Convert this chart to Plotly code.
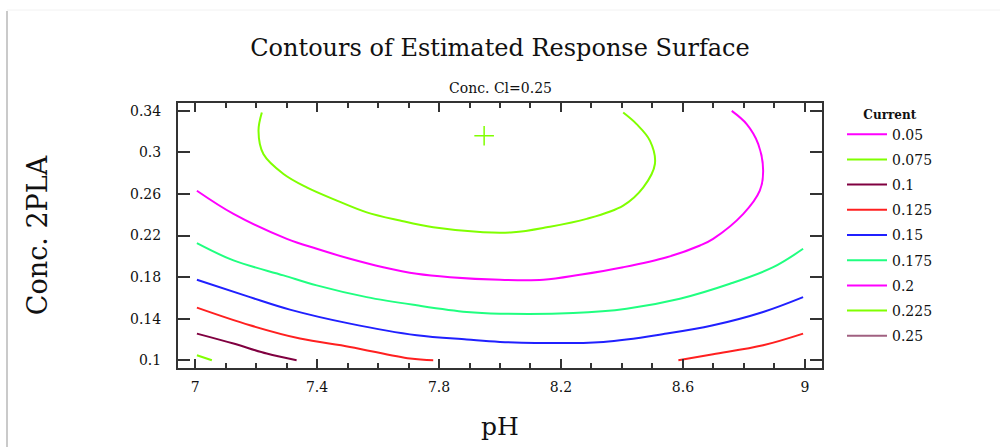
import plotly.graph_objects as go

# Contour levels of the estimated response ("Current") and their legend labels
levels = [0.05, 0.075, 0.1, 0.125, 0.15, 0.175, 0.2, 0.225, 0.25]
level_labels = ["0.05", "0.075", "0.1", "0.125", "0.15", "0.175", "0.2", "0.225", "0.25"]
level_colors = ["#ff00ff", "#80ff00", "#800040", "#ff2020", "#2020ff",
                "#20ff80", "#ff00ff", "#80ff00", "#a06080"]

# Contour paths (pH, Conc. 2PLA) for each level; empty where the level is not reached
ph_0225 = [7.219, 7.208, 7.224, 7.290, 7.366, 7.465, 7.563, 7.672, 7.781, 7.945,
           8.044, 8.153, 8.284, 8.404, 8.470, 8.508, 8.492, 8.448, 8.404]
pla_0225 = [0.3383, 0.3207, 0.2984, 0.2792, 0.2663, 0.2536, 0.2423, 0.2344, 0.2279, 0.2231,
            0.2231, 0.2279, 0.2360, 0.2488, 0.2663, 0.2888, 0.3111, 0.3272, 0.3383]

ph_0200 = [7.006, 7.126, 7.301, 7.399, 7.508, 7.617, 7.727, 7.836, 8.000, 8.142, 8.262,
           8.404, 8.547, 8.656, 8.699, 8.798, 8.852, 8.863, 8.847, 8.809, 8.760]
pla_0200 = [0.2631, 0.2408, 0.2168, 0.2072, 0.1976, 0.1895, 0.1832, 0.1799, 0.1774, 0.1774, 0.1822,
            0.1895, 0.1991, 0.2104, 0.2168, 0.2408, 0.2631, 0.2823, 0.3080, 0.3272, 0.3399]

ph_0175 = [7.006, 7.126, 7.290, 7.399, 7.563, 7.727, 7.891, 8.000, 8.240, 8.415,
           8.590, 8.754, 8.896, 8.994]
pla_0175 = [0.2126, 0.1960, 0.1816, 0.1720, 0.1607, 0.1528, 0.1464, 0.1448, 0.1454, 0.1496,
            0.1592, 0.1736, 0.1895, 0.2072]

ph_0150 = [7.006, 7.180, 7.311, 7.508, 7.727, 7.891, 8.000, 8.339, 8.547, 8.699, 8.863, 8.994]
pla_0150 = [0.1774, 0.1607, 0.1487, 0.1352, 0.1240, 0.1199, 0.1176, 0.1176, 0.1256, 0.1336,
            0.1464, 0.1607]

ph_0125 = [7.006, 7.180, 7.344, 7.508, 7.705, 7.781, None, 8.585, 8.699, 8.863, 8.994]
pla_0125 = [0.1506, 0.1336, 0.1208, 0.1128, 0.1016, 0.1000, None, 0.1000, 0.1058, 0.1144, 0.1256]

ph_0100 = [7.006, 7.126, 7.235, 7.333]
pla_0100 = [0.1256, 0.1160, 0.1064, 0.1000]

ph_0075 = [7.006, 7.055]
pla_0075 = [0.1048, 0.1000]

# Location of the estimated optimum
optimum_ph = [7.948]
optimum_pla = [0.316]

contour_paths = {
    0.05: ([None], [None]),
    0.075: (ph_0075, pla_0075),
    0.1: (ph_0100, pla_0100),
    0.125: (ph_0125, pla_0125),
    0.15: (ph_0150, pla_0150),
    0.175: (ph_0175, pla_0175),
    0.2: (ph_0200, pla_0200),
    0.225: (ph_0225, pla_0225),
    0.25: ([None], [None]),
}

x_ticks = [7, 7.4, 7.8, 8.2, 8.6, 9]
y_ticks = [0.1, 0.14, 0.18, 0.22, 0.26, 0.3, 0.34]

SERIF = "DejaVu Serif"
INK = "#111111"
AX = "#333333"

# plot area in pixels: left 178, right 822, top 103, bottom 368
PW, PH_ = 644, 265

fig = go.Figure()
for i, (lev, lab, col) in enumerate(zip(levels, level_labels, level_colors)):
    xs, ys = contour_paths[lev]
    fig.add_trace(go.Scatter(
        x=xs, y=ys, mode="lines", name=lab,
        line=dict(color=col, width=2, shape="spline", smoothing=1.0),
        legendgroup=f"g{i}", connectgaps=False,
        hoverinfo="skip",
    ))

fig.add_trace(go.Scatter(
    x=optimum_ph, y=optimum_pla, mode="markers", showlegend=False,
    marker=dict(symbol="cross-thin", size=14, line=dict(color="#80ff00", width=1.5)),
    hoverinfo="skip",
))

axis_common = dict(
    showgrid=False, zeroline=False, showline=True, linecolor=AX, linewidth=2,
    mirror="allticks", ticks="inside", tickcolor=AX, tickwidth=1.5,
    tickfont=dict(family=SERIF, size=14, color=INK),
)

fig.update_xaxes(
    range=[6.944, 9.056], tickvals=x_ticks, ticktext=[str(v) for v in x_ticks],
    ticklen=9, ticklabelstandoff=5,
    minor=dict(dtick=0.1, tick0=7, ticks="inside", ticklen=5, tickcolor=AX, tickwidth=1.5),
    title=dict(text="pH", font=dict(family=SERIF, size=25, color=INK), standoff=24),
    **axis_common,
)
fig.update_yaxes(
    range=[0.0925, 0.3475], tickvals=y_ticks, ticktext=[str(v) for v in y_ticks],
    ticklen=12, ticklabelstandoff=12,
    title=dict(text="Conc. 2PLA", font=dict(family=SERIF, size=27, color=INK), standoff=75),
    **axis_common,
)

fig.update_layout(
    width=1000, height=447,
    margin=dict(l=178, r=178, t=103, b=79),
    paper_bgcolor="white", plot_bgcolor="white",
    title=dict(text="Contours of Estimated Response Surface", x=0.5, xanchor="center",
               y=1 - 48 / 447, yanchor="middle",
               font=dict(family=SERIF, size=24, color=INK)),
    annotations=[dict(text="Conc. Cl=0.25", xref="paper", yref="paper", x=0.5, y=1.0,
                      xanchor="center", yanchor="bottom", yshift=5, showarrow=False,
                      font=dict(family=SERIF, size=14, color=INK))],
    legend=dict(
        title=dict(text="<b>Current</b>", side="top center",
                   font=dict(family=SERIF, size=12, color=INK)),
        x=(842 - 178) / PW, xanchor="left", y=1.0, yanchor="top",
        font=dict(family=SERIF, size=14, color=INK),
        itemwidth=40,
        tracegroupgap=4, bgcolor="rgba(0,0,0,0)",
    ),
    shapes=[
        dict(type="line", xref="paper", yref="paper",
             x0=(7 - 178) / PW, x1=(7 - 178) / PW,
             y0=-79 / PH_, y1=(447 - 11 - 79) / PH_,
             line=dict(color="#b8b8b8", width=1.5)),
        dict(type="line", xref="paper", yref="paper",
             x0=(7 - 178) / PW, x1=(1000 - 178) / PW,
             y0=(447 - 10 - 79) / PH_, y1=(447 - 10 - 79) / PH_,
             line=dict(color="#f2f2f2", width=1)),
    ],
    showlegend=True,
)

fig.write_html("out.html")
